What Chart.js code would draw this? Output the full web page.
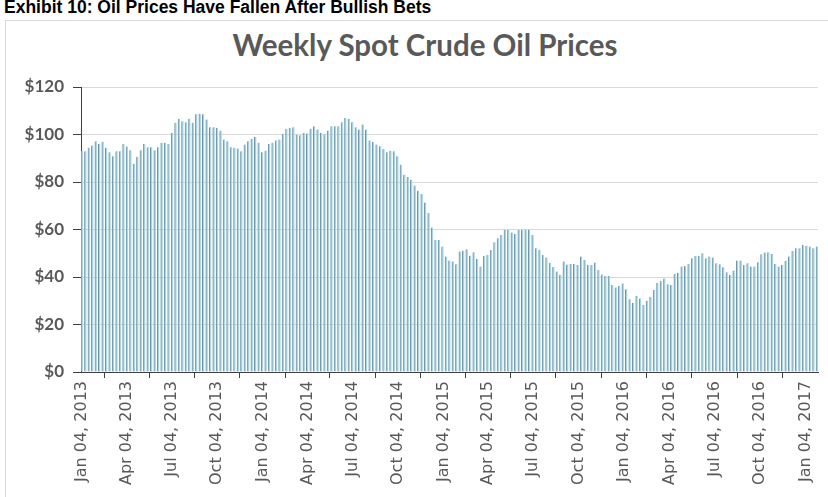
<!DOCTYPE html>
<html><head><meta charset="utf-8">
<script src="https://cdn.jsdelivr.net/npm/chart.js@4.4.1/dist/chart.umd.min.js"></script>
<style>
html,body{margin:0;padding:0;background:#fff;width:828px;height:497px;overflow:hidden;}
#exhibit{position:absolute;left:4px;top:-3px;font:bold 17.5px "Liberation Sans",Arial,sans-serif;color:#000;white-space:nowrap;line-height:20px;}
#frame{position:absolute;left:5px;top:20px;width:900px;height:600px;border:1px solid #d9d9d9;}
#title{position:absolute;left:0;width:850px;top:28px;text-align:center;font:bold 29.5px Lato,sans-serif;color:#595959;line-height:34px;}
#wrap{position:absolute;left:0;top:0;width:828px;height:497px;}
</style></head><body>
<div id="exhibit">Exhibit 10: Oil Prices Have Fallen After Bullish Bets</div>
<div id="frame"></div>
<div id="title">Weekly Spot Crude Oil Prices</div>
<div id="wrap"><canvas id="c" width="828" height="497"></canvas></div>
<script>
const firstWeek = [2013, 0, 4];
const prices = [
 93.2, 93.0, 94.4, 95.4, 97.2, 96.0, 97.0, 94.4, 92.5, 90.8,
 93.0, 93.0, 96.0, 95.0, 93.4, 87.7, 90.6, 93.4, 96.0, 94.6,
 94.6, 93.4, 94.6, 96.5, 96.5, 96.0, 100.7, 105.0, 106.6, 105.6,
 105.2, 106.6, 105.0, 108.5, 108.7, 108.5, 106.3, 103.1, 103.1, 102.8,
 101.7, 97.9, 97.2, 94.6, 94.4, 94.1, 93.0, 95.8, 97.2, 98.2,
 98.9, 96.5, 92.5, 93.2, 96.0, 96.5, 97.5, 97.9, 100.3, 102.4,
 102.8, 103.1, 100.0, 99.7, 100.7, 100.4, 102.4, 103.5, 102.1, 100.7,
 100.0, 101.7, 103.5, 103.5, 103.5, 105.2, 107.0, 106.6, 105.2, 103.1,
 102.1, 104.2, 102.1, 97.5, 96.8, 95.8, 95.1, 93.9, 92.5, 93.2,
 93.0, 90.8, 87.3, 83.1, 82.1, 81.0, 78.5, 76.3, 74.9, 71.4,
 66.9, 60.8, 55.6, 55.6, 52.8, 48.6, 46.9, 46.5, 45.4, 50.7,
 51.1, 51.7, 49.0, 50.4, 47.6, 44.4, 48.9, 49.3, 51.4, 54.6,
 56.3, 57.7, 59.9, 59.9, 58.7, 58.2, 59.9, 59.9, 59.9, 59.9,
 57.7, 52.1, 51.5, 49.3, 48.2, 46.0, 44.2, 42.3, 41.0, 46.5,
 45.3, 45.5, 45.5, 45.1, 48.6, 47.2, 45.1, 45.1, 46.1, 43.0,
 41.1, 40.4, 40.4, 36.6, 35.6, 36.2, 37.3, 34.8, 30.6, 29.2,
 32.0, 31.0, 28.2, 30.0, 31.7, 34.5, 37.6, 38.3, 39.4, 36.9,
 36.6, 41.3, 41.8, 44.4, 44.6, 45.5, 47.9, 48.9, 49.0, 50.0,
 47.9, 48.6, 48.2, 45.8, 45.4, 44.1, 42.0, 40.8, 42.7, 46.9,
 46.9, 45.1, 45.8, 44.4, 44.4, 46.2, 49.6, 50.3, 50.4, 49.7,
 45.5, 44.4, 45.1, 46.8, 48.6, 51.0, 52.1, 52.1, 53.5, 53.2,
 52.8, 52.1, 52.8
];
const tickLabels = [
 "Jan 04, 2013","Apr 04, 2013","Jul 04, 2013","Oct 04, 2013",
 "Jan 04, 2014","Apr 04, 2014","Jul 04, 2014","Oct 04, 2014",
 "Jan 04, 2015","Apr 04, 2015","Jul 04, 2015","Oct 04, 2015",
 "Jan 04, 2016","Apr 04, 2016","Jul 04, 2016","Oct 04, 2016",
 "Jan 04, 2017"
];
const yTickValues = [0, 20, 40, 60, 80, 100, 120];

const DAY = 86400000;
const t0 = Date.UTC(firstWeek[0], firstWeek[1], firstWeek[2]);
const months = {Jan:0,Feb:1,Mar:2,Apr:3,May:4,Jun:5,Jul:6,Aug:7,Sep:8,Oct:9,Nov:10,Dec:11};
function dayOf(label){
  const p = label.replace(',', '').split(' ');
  return (Date.UTC(+p[2], months[p[0]], +p[1]) - t0) / DAY;
}
const tickDays = tickLabels.map(dayOf);
const points = prices.map((v, i) => ({x: i * 7, y: v}));

new Chart(document.getElementById('c').getContext('2d'), {
  type: 'bar',
  data: {datasets: [{
    data: points,
    backgroundColor: '#a9d6e3',
    borderColor: '#6c93a8',
    borderWidth: {left: 1, right: 0, top: 0, bottom: 0},
    barThickness: 2
  }]},
  options: {
    responsive: false, animation: false,
    layout: {padding: {left: 0, right: 10, top: 87, bottom: 0}},
    plugins: {legend: {display: false}, tooltip: {enabled: false}, title: {display: false}},
    scales: {
      x: {
        type: 'linear', min: -2, max: 1486, offset: false,
        afterBuildTicks: s => { s.ticks = tickDays.map(v => ({value: v})); },
        ticks: {autoSkip: false, minRotation: 90, maxRotation: 90, padding: 3,
          color: '#595959', font: {family: 'DejaVu Sans', size: 16},
          callback: (v, i) => tickLabels[i]},
        grid: {drawOnChartArea: false, drawTicks: true, tickLength: 6, tickColor: '#404040'},
        border: {color: '#404040', width: 1},
        afterFit: s => { s.height = 125; }
      },
      y: {
        min: 0, max: 120,
        afterBuildTicks: s => { s.ticks = yTickValues.map(v => ({value: v})); },
        ticks: {padding: 9, color: '#595959', font: {family: 'Lato', size: 17, weight: 'bold'},
          callback: v => '$' + v},
        grid: {color: '#d9d9d9', tickColor: '#404040', tickLength: 8},
        border: {color: '#404040', width: 1},
        afterFit: s => { s.width = 81; }
      }
    }
  }
});
</script>
</body></html>
